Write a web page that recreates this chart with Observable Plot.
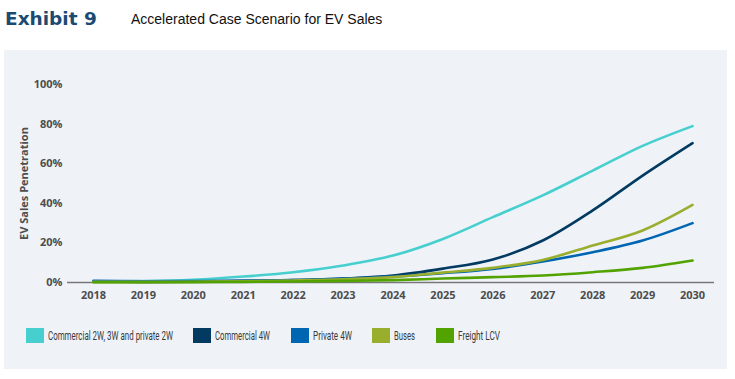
<!DOCTYPE html>
<html>
<head>
<meta charset="utf-8">
<script src="https://cdn.jsdelivr.net/npm/d3@7"></script>
<script src="https://cdn.jsdelivr.net/npm/@observablehq/plot@0.6"></script>
<style>
  html, body { margin: 0; padding: 0; background: #fff; }
  #root { position: relative; width: 735px; height: 379px; overflow: hidden; }
  #exhibit { position: absolute; left: 5px; top: 8px; font-family: "DejaVu Sans", sans-serif; font-weight: bold; font-size: 18.5px; color: #1b4a73; }
  #subtitle { position: absolute; left: 131px; top: 11px; font-family: "Liberation Sans", Arial, sans-serif; font-size: 14px; color: #111; }
  #panel { position: absolute; left: 4px; top: 50px; width: 723px; height: 319px; background: #eff3f8; }
  #chart { position: absolute; left: 0; top: 50px; }
  .leg { position: absolute; top: 328px; height: 15px; display: flex; align-items: center; font-family: Roboto, "Liberation Sans", sans-serif; font-size: 13px; color: #3a3a3a; white-space: nowrap; }
  .sw { width: 18px; height: 15px; margin-right: 4px; flex: none; }
  .lt { display: inline-block; transform-origin: 0 50%; }
</style>
</head>
<body>
<div id="root">
  <div id="exhibit">Exhibit 9</div>
  <div id="subtitle">Accelerated Case Scenario for EV Sales</div>
  <div id="panel"></div>
  <div id="chart"></div>
  <div id="legend"></div>
</div>
<script>
const years = [2018, 2019, 2020, 2021, 2022, 2023, 2024, 2025, 2026, 2027, 2028, 2029, 2030];
const seriesNames = ["Commercial 2W, 3W and private 2W", "Commercial 4W", "Private 4W", "Buses", "Freight LCV"];
const seriesColors = ["#47cfcf", "#033a62", "#0066b2", "#9aae2e", "#52a300"];
const commercial2w = [0.5, 0.7, 1.4, 3, 5.2, 8.6, 13.6, 22, 33, 44, 56.5, 69, 79];
const commercial4w = [0.5, 0.3, 0.5, 0.8, 1.2, 2, 3.5, 7, 11.6, 21.2, 36.4, 54, 70.4];
const private4w = [0.8, 0.6, 0.7, 0.9, 1.2, 2, 3, 4.7, 6.9, 10.6, 15.3, 21.2, 30];
const buses = [0.3, 0.3, 0.4, 0.6, 1, 1.6, 2.7, 5, 7.4, 11.4, 18.7, 26.3, 39.2];
const freightLCV = [0.1, 0.1, 0.2, 0.3, 0.5, 0.8, 1.2, 2, 2.7, 3.5, 5.2, 7.4, 11.1];
const yTicks = [0, 20, 40, 60, 80, 100];

const allSeries = [commercial2w, commercial4w, private4w, buses, freightLCV];
const data = [];
allSeries.forEach((vals, i) => vals.forEach((v, j) => data.push({series: seriesNames[i], year: years[j], value: v})));

const chart = Plot.plot({
  width: 735,
  height: 260,
  marginLeft: 67,
  marginRight: 21,
  marginTop: 34,
  marginBottom: 28,
  style: {background: "transparent", fontFamily: "'Open Sans', sans-serif", fontSize: "11px", fontWeight: 700, color: "#4d4d4d"},
  x: {domain: [2017.48, 2030.44]},
  y: {domain: [0, 100]},
  color: {domain: seriesNames, range: seriesColors},
  marks: [
    Plot.axisX({ticks: years, tickFormat: d => String(d), tickSize: 0, tickPadding: 9, label: null, fill: "#4d4d4d"}),
    Plot.axisY({ticks: yTicks, tickFormat: d => d + "%", tickSize: 0, tickPadding: 5, label: "EV Sales Penetration", labelAnchor: "center", labelOffset: 47, labelArrow: false, fill: "#4d4d4d"}),
    Plot.ruleY([0], {stroke: "#777", strokeWidth: 1.5}),
    Plot.line(data, {x: "year", y: "value", z: "series", stroke: "series", strokeWidth: 2.6, curve: "monotone-x"})
  ]
});
document.getElementById("chart").appendChild(chart);

const legendX = [26, 193, 291, 372, 436];
const legendTextW = [125, 55, 39, 21, 42];
const legend = document.getElementById("legend");
seriesNames.forEach((name, i) => {
  const item = document.createElement("div");
  item.className = "leg";
  item.style.left = legendX[i] + "px";
  const sw = document.createElement("div");
  sw.className = "sw";
  sw.style.background = seriesColors[i];
  const t = document.createElement("span");
  t.className = "lt";
  t.textContent = name;
  item.appendChild(sw);
  item.appendChild(t);
  legend.appendChild(item);
  const w = t.getBoundingClientRect().width;
  if (w > 0) t.style.transform = `scaleX(${legendTextW[i] / w})`;
});
</script>
</body>
</html>
